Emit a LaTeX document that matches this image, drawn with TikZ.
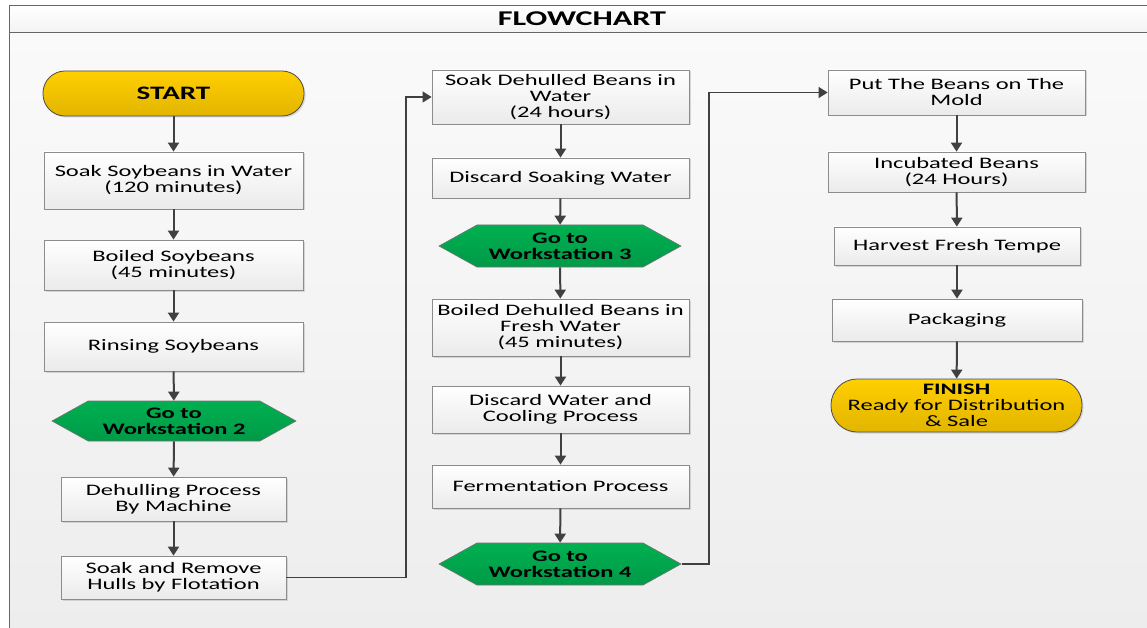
\documentclass[tikz,border=0pt]{standalone}
\usepackage{fontspec}
\setmainfont[FakeStretch=1.53]{Carlito}
\usetikzlibrary{arrows.meta,shapes.symbols,shadows}
\definecolor{arrowc}{HTML}{404040}
\definecolor{boxline}{HTML}{8C8C8C}
\definecolor{ytop}{HTML}{FFCF00}
\definecolor{ybot}{HTML}{E2B500}
\definecolor{gtop}{HTML}{00B050}
\definecolor{gbot}{HTML}{009A48}
\begin{document}
\begin{tikzpicture}[x=1pt,y=-1pt,
  every node/.style={font=\fontsize{16}{16}\selectfont, align=center, inner sep=2pt},
  procbox/.style={draw=boxline, line width=0.8pt, top color=white, bottom color=black!8,
     drop shadow={shadow xshift=1.5pt, shadow yshift=-1.5pt, fill=black!25, opacity=0.6}},
  termbox/.style={draw=black!70, line width=0.8pt, top color=ytop, bottom color=ybot,
     drop shadow={shadow xshift=1.5pt, shadow yshift=-1.5pt, fill=black!25, opacity=0.6}},
  wsbox/.style={signal, signal to=east and west, signal pointer angle=58, draw=black!55,
     line width=0.6pt, top color=gtop, bottom color=gbot, font=\fontsize{16}{16}\selectfont\bfseries,
     minimum width=242pt, minimum height=42pt, inner xsep=0pt, inner ysep=1pt},
  flow/.style={draw=arrowc, line width=2pt, -{Triangle[length=9pt,width=11pt]}}
]
\useasboundingbox (0,0) rectangle (1147,628);
% background
\fill[white] (0,0) rectangle (1147,628);
\shade[top color=black!2, bottom color=black!7] (9,33) rectangle (1147,628);
\shade[top color=white, bottom color=black!5] (9,6) rectangle (1147,33);
\draw[black!60, line width=1pt] (9,628) -- (9,6) -- (1147,6);
\draw[black!60, line width=1pt] (9,33) -- (1147,33);
\node[font=\fontsize{21}{21}\selectfont\bfseries] (title) at (582,19) {FLOWCHART};

% column 1
\node[termbox, rounded corners=22pt, minimum width=261pt, minimum height=45pt, font=\fontsize{19}{19}\selectfont\bfseries] (start) at (173.5,93.5) {START};
\node[procbox, minimum width=259pt, minimum height=57pt] (s1) at (173.5,180.5) {Soak Soybeans in Water\\(120 minutes)};
\node[procbox, minimum width=259pt, minimum height=50pt] (s2) at (173.5,265) {Boiled Soybeans\\(45 minutes)};
\node[procbox, minimum width=259pt, minimum height=49pt] (s3) at (173.5,346.5) {Rinsing Soybeans};
\node[wsbox, minimum width=244pt, minimum height=40pt] (ws2) at (174,421) {Go to\\Workstation 2};
\node[procbox, minimum width=225pt, minimum height=44pt] (s4) at (173.5,499) {Dehulling Process\\By Machine};
\node[procbox, minimum width=225pt, minimum height=43pt] (s5) at (173.5,577.5) {Soak and Remove\\Hulls by Flotation};

% column 2
\node[procbox, minimum width=257pt, minimum height=54pt] (t1) at (560.5,97) {Soak Dehulled Beans in\\Water\\(24 hours)};
\node[procbox, minimum width=257pt, minimum height=40pt] (t2) at (560.5,178) {Discard Soaking Water};
\node[wsbox] (ws3) at (560,246) {Go to\\Workstation 3};
\node[procbox, minimum width=257pt, minimum height=57pt] (t3) at (560.5,327.5) {Boiled Dehulled Beans in\\Fresh Water\\(45 minutes)};
\node[procbox, minimum width=257pt, minimum height=47pt] (t4) at (560.5,409.5) {Discard Water and\\Cooling Process};
\node[procbox, minimum width=257pt, minimum height=43pt] (t5) at (560.5,486.5) {Fermentation Process};
\node[wsbox] (ws4) at (560,564) {Go to\\Workstation 4};

% column 3
\node[procbox, minimum width=257pt, minimum height=45pt] (u1) at (956.5,92.5) {Put The Beans on The\\Mold};
\node[procbox, minimum width=257pt, minimum height=40pt] (u2) at (956.5,172) {Incubated Beans\\(24 Hours)};
\node[procbox, minimum width=246pt, minimum height=38pt] (u3) at (957,246) {Harvest Fresh Tempe};
\node[procbox, minimum width=250pt, minimum height=42pt] (u4) at (957,320) {Packaging};
\node[termbox, rounded corners=26pt, minimum width=251pt, minimum height=53pt] (fin) at (956.5,405.5) {\textbf{FINISH}\\Ready for Distribution\\\& Sale};

% connectors
\draw[flow] (start) -- (s1);
\draw[flow] (s1) -- (s2);
\draw[flow] (s2) -- (s3);
\draw[flow] (s3) -- (ws2);
\draw[flow] (ws2) -- (s4);
\draw[flow] (s4) -- (s5);
\draw[flow, line width=1.2pt] (s5.east) -- (406,577.5) |- (t1.west);
\draw[flow] (t1) -- (t2);
\draw[flow] (t2) -- (ws3);
\draw[flow] (ws3) -- (t3);
\draw[flow] (t3) -- (t4);
\draw[flow] (t4) -- (t5);
\draw[flow] (t5) -- (ws4);
\draw[flow, line width=1.2pt] (ws4.east) -- (709,564) |- (u1.west);
\draw[flow] (u1) -- (u2);
\draw[flow] (u2) -- (u3);
\draw[flow] (u3) -- (u4);
\draw[flow] (u4) -- (fin);
\end{tikzpicture}
\end{document}
